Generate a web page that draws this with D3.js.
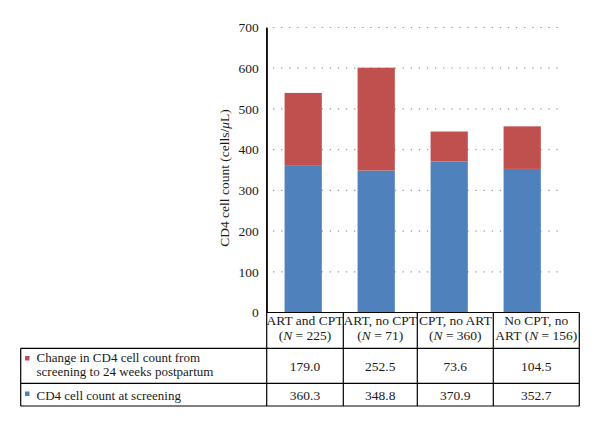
<!DOCTYPE html>
<html>
<head>
<meta charset="utf-8">
<script src="https://cdn.jsdelivr.net/npm/d3@7"></script>
<style>
body { margin: 0; background: #fff; }
svg, svg text { font-family: 'Liberation Serif', 'Times New Roman', 'DejaVu Serif', serif; }
</style>
</head>
<body>
<script>
var width = 600, height = 427;
var FONT = "'Liberation Serif', 'Times New Roman', serif";

// data
var groups = ["ART and CPT", "ART, no CPT", "CPT, no ART", "No CPT, no ART"];
var headLine1 = ["ART and CPT", "ART, no CPT", "CPT, no ART", "No CPT, no"];
var headLine2 = [["(", "N", " = 225)"], ["(", "N", " = 71)"], ["(", "N", " = 360)"], ["ART (", "N", " = 156)"]];
var screening = [360.3, 348.8, 370.9, 352.7];
var change = [179.0, 252.5, 73.6, 104.5];
var seriesNames = ["Change in CD4 cell count from|screening to 24 weeks postpartum", "CD4 cell count at screening"];
var yTicks = [0, 100, 200, 300, 400, 500, 600, 700];

var blue = "#4f81bd", red = "#c0504d";

var svg = d3.select("body").append("svg").attr("width", width).attr("height", height)
    .attr("font-family", FONT)

var x = d3.scaleBand().domain(groups).range([266.7, 558.7]).paddingInner(0.49).paddingOuter(0.245);
var y = d3.scaleLinear().domain([0, 700]).range([312.5, 27.5]);

// dotted gridlines
svg.append("g").selectAll("line").data(yTicks.slice(1)).join("line")
    .attr("x1", 273).attr("x2", 560)
    .attr("y1", function(d){ return y(d) }).attr("y2", function(d){ return y(d) })
    .attr("stroke", "#9a9a9a").attr("stroke-width", 1.2)
    .attr("stroke-dasharray", "1.3,6.8")

// stacked bars
var stacked = groups.map(function(g, i){ return {g: g, s: screening[i], c: change[i]} })
svg.append("g").selectAll("rect").data(stacked).join("rect")
    .attr("x", function(d){ return x(d.g) }).attr("width", x.bandwidth())
    .attr("y", function(d){ return y(d.s) }).attr("height", function(d){ return y(0) - y(d.s) })
    .attr("fill", blue)
svg.append("g").selectAll("rect").data(stacked).join("rect")
    .attr("x", function(d){ return x(d.g) }).attr("width", x.bandwidth())
    .attr("y", function(d){ return y(d.s + d.c) }).attr("height", function(d){ return y(d.s) - y(d.s + d.c) })
    .attr("fill", red)

// y axis
var yAxis = d3.axisLeft(y).tickValues(yTicks).tickSize(0).tickPadding(8)
var ga = svg.append("g").attr("transform", "translate(266.7,0)").call(yAxis)
    .attr("font-family", FONT).attr("font-size", 13.5)
ga.select(".domain").attr("stroke", "#000").attr("stroke-width", 1.2)
ga.selectAll("text").attr("fill", "#1a1a1a")

svg.append("text").attr("transform", "translate(229,178) rotate(-90)")
    .attr("text-anchor", "middle").attr("font-size", 13.5).attr("fill", "#1a1a1a")
    .call(function(t){
        t.append("tspan").text("CD4 cell count (cells/")
        t.append("tspan").attr("font-style", "italic").text("\u03bc")
        t.append("tspan").text("L)")
    })

// data table
var cols = [266.7, 343.3, 417.3, 493.3, 579.3];
var rowsY = [312.5, 348.3, 383.3, 406];
var tbl = svg.append("g").attr("stroke", "#000").attr("stroke-width", 1.2)
tbl.append("line").attr("x1", cols[0]).attr("x2", cols[4]).attr("y1", rowsY[0]).attr("y2", rowsY[0])
tbl.selectAll(".h").data(rowsY.slice(1)).join("line").attr("class", "h")
    .attr("x1", 20.7).attr("x2", cols[4]).attr("y1", function(d){ return d }).attr("y2", function(d){ return d })
tbl.append("line").attr("x1", 20.7).attr("x2", 20.7).attr("y1", rowsY[1]).attr("y2", rowsY[3])
tbl.selectAll(".v").data(cols).join("line").attr("class", "v")
    .attr("x1", function(d){ return d }).attr("x2", function(d){ return d })
    .attr("y1", function(d, i){ return i == 0 ? 27.5 : rowsY[0] }).attr("y2", rowsY[3])

var cx = function(i){ return (cols[i] + cols[i + 1]) / 2 }

var txt = svg.append("g").attr("font-size", 13.5).attr("fill", "#1a1a1a")
txt.selectAll(".h1").data(headLine1).join("text").attr("class", "h1")
    .attr("x", function(d, i){ return cx(i) }).attr("y", 324.5)
    .attr("text-anchor", "middle").text(function(d){ return d })
txt.selectAll(".h2").data(headLine2).join("text").attr("class", "h2")
    .attr("x", function(d, i){ return cx(i) }).attr("y", 339.5)
    .attr("text-anchor", "middle")
    .each(function(d){
        var t = d3.select(this)
        t.append("tspan").text(d[0])
        t.append("tspan").attr("font-style", "italic").text(d[1])
        t.append("tspan").text(d[2])
    })

var rows = [{name: seriesNames[0], vals: change, color: red, y: 370.5}, {name: seriesNames[1], vals: screening, color: blue, y: 399.5}]
rows.forEach(function(r, ri){
    var lines = r.name.split("|")
    var ty = lines.length > 1 ? 362 : 399.5
    svg.append("rect").attr("x", 25).attr("y", (ri == 0 ? 356 : 391.5)).attr("width", 4.5).attr("height", 4.5).attr("fill", r.color)
    lines.forEach(function(l, li){
        txt.append("text").attr("x", 36.5).attr("y", ty + li * 14).attr("font-size", 13).text(l)
    })
    txt.append("g").selectAll("text").data(r.vals).join("text")
        .attr("x", function(d, i){ return cx(i) }).attr("y", r.y)
        .attr("text-anchor", "middle")
        .text(function(d){ return d.toFixed(1) })
})
</script>
</body>
</html>
